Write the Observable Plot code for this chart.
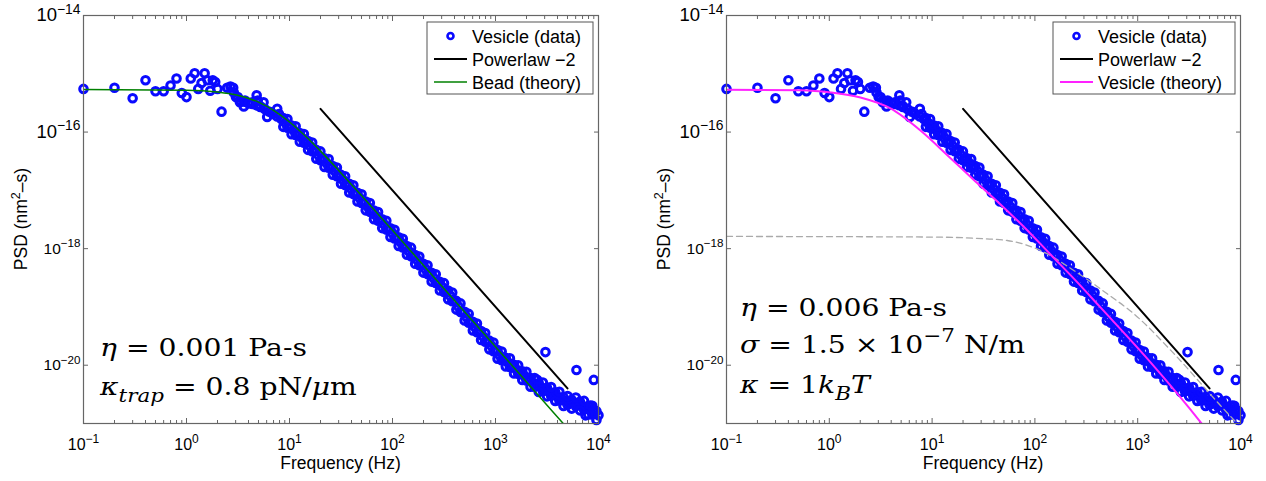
<!DOCTYPE html>
<html><head><meta charset="utf-8">
<script src="https://cdn.jsdelivr.net/npm/d3@7"></script>
<script src="https://cdn.jsdelivr.net/npm/@observablehq/plot@0.6"></script>
<style>
body{margin:0;background:#fff;}
#row{display:flex;width:1266px;height:481px;}
#row svg{display:block;}
</style></head><body><div id="row"></div>
<script>
// ---- data (Hz, nm^2-s) ----
const bandMidFreq = [8.71,9.55,10.47,11.48,12.59,13.80,15.14,16.60,18.20,19.95,21.88,23.99,26.30,28.84,31.62,34.67,38.02,41.69,45.71,50.12,54.95,60.26,66.07,72.44,79.43,87.10,95.50,104.7,114.8,125.9,138.0,151.4,166.0,182.0,199.5,218.8,239.9,263.0,288.4,316.2,346.7,380.2,416.9,457.1,501.2,549.5,602.6,660.7,724.4,794.3,871.0,955.0,1047,1148,1259,1380,1514,1660,1820,1995,2188,2399,2630,2884,3162,3467,3802,4169,4571,5012,5495,6026,6607,7244,7943,8710,9550];
const vesicleFreq = [0.1,0.2,0.3,0.4,0.5,0.6,0.7,0.8,0.9,1.0,1.1,1.2,1.3,1.4,1.5,1.6,1.7,1.8,1.9,2.0,2.19,2.48,2.67,2.84,2.88,3.02,3.15,3.3,3.31,3.6,3.63,3.7,3.98,4.03,4.35,4.37,4.79,4.8,4.92,5.2,5.25,5.6,5.75,6.07,6.31,6.6,6.92,7.59,7.6,7.9,
8.32,9.12,10.0,10.96,12.02,13.18,14.45,15.85,17.38,19.05,20.89,22.91,25.12,27.54,30.2,33.11,36.31,39.81,43.65,47.86,52.48,57.54,63.1,69.18,75.86,83.18,91.2,100,109.6,120.2,131.8,144.5,158.5,173.8,190.5,208.9,229.1,251.2,275.4,302,331.1,363.1,398.1,436.5,478.6,524.8,575.4,631,691.8,758.6,831.8,912,1000,1096,1202,1318,1445,1585,1738,1905,2089,2291,2512,2754,3020,3311,3631,3981,4365,4786,5248,5754,6310,6918,7586,8318,9120,10000,
...bandMidFreq, ...bandMidFreq,
2535,3054,6110,7480,8360,9000];
const vesiclePsd = [5.50e-16,5.75e-16,3.80e-16,7.76e-16,5.01e-16,5.01e-16,6.31e-16,8.32e-16,4.68e-16,3.98e-16,8.32e-16,1.02e-15,5.50e-16,6.92e-16,1.02e-15,7.76e-16,5.13e-16,7.76e-16,7.24e-16,5.50e-16,2.24e-16,5.75e-16,6.03e-16,5.75e-16,4.79e-16,3.98e-16,3.98e-16,3.24e-16,3.50e-16,2.75e-16,3.33e-16,3.47e-16,3.18e-16,3.09e-16,3.24e-16,3.03e-16,2.88e-16,4.27e-16,3.47e-16,2.69e-16,2.74e-16,3.24e-16,2.48e-16,1.82e-16,2.25e-16,2.19e-16,2.04e-16,1.85e-16,2.51e-16,2.04e-16,
1.67e-16,1.44e-16,1.24e-16,1.07e-16,9.29e-17,7.98e-17,6.78e-17,5.75e-17,4.82e-17,4.03e-17,3.42e-17,2.95e-17,2.55e-17,2.14e-17,1.79e-17,1.50e-17,1.26e-17,1.06e-17,8.87e-18,7.45e-18,6.25e-18,5.24e-18,4.40e-18,3.69e-18,3.09e-18,2.59e-18,2.18e-18,1.83e-18,1.53e-18,1.29e-18,1.08e-18,9.04e-19,7.59e-19,6.37e-19,5.33e-19,4.48e-19,3.76e-19,3.15e-19,2.64e-19,2.21e-19,1.86e-19,1.56e-19,1.26e-19,1.02e-19,8.22e-20,6.64e-20,5.47e-20,4.54e-20,3.77e-20,3.12e-20,2.59e-20,2.15e-20,1.78e-20,1.48e-20,1.28e-20,1.12e-20,9.77e-21,8.53e-21,7.48e-21,6.55e-21,5.74e-21,5.02e-21,4.56e-21,4.19e-21,3.84e-21,3.52e-21,3.21e-21,2.92e-21,2.65e-21,2.41e-21,2.28e-21,2.24e-21,2.20e-21,2.02e-21,1.87e-21,1.69e-21,1.53e-21,1.38e-21,
1.74e-16,1.19e-16,1.30e-16,8.89e-17,9.66e-17,6.55e-17,7.00e-17,4.69e-17,4.94e-17,3.30e-17,3.56e-17,2.44e-17,2.62e-17,1.75e-17,1.84e-17,1.23e-17,1.30e-17,8.63e-18,9.12e-18,6.08e-18,6.41e-18,4.28e-18,4.52e-18,3.01e-18,3.18e-18,2.12e-18,2.24e-18,1.49e-18,1.57e-18,1.05e-18,1.11e-18,7.38e-19,7.80e-19,5.19e-19,5.48e-19,3.66e-19,3.85e-19,2.57e-19,2.71e-19,1.81e-19,1.91e-19,1.25e-19,1.27e-19,8.15e-20,8.28e-20,5.37e-20,5.58e-20,3.68e-20,3.85e-20,2.53e-20,2.64e-20,1.74e-20,1.82e-20,1.22e-20,1.34e-20,9.31e-21,1.02e-20,7.11e-21,7.85e-21,5.46e-21,6.03e-21,4.27e-21,4.90e-21,3.57e-21,4.12e-21,3.00e-21,3.44e-21,2.48e-21,2.83e-21,2.09e-21,2.54e-21,1.98e-21,2.37e-21,1.73e-21,2.00e-21,1.43e-21,1.63e-21,
1.23e-16,1.68e-16,9.20e-17,1.26e-16,6.84e-17,9.26e-17,4.95e-17,6.63e-17,3.50e-17,4.66e-17,2.52e-17,3.45e-17,1.85e-17,2.47e-17,1.30e-17,1.74e-17,9.20e-18,1.22e-17,6.45e-18,8.59e-18,4.54e-18,6.05e-18,3.20e-18,4.25e-18,2.25e-18,3.00e-18,1.59e-18,2.11e-18,1.11e-18,1.48e-18,7.86e-19,1.04e-18,5.52e-19,7.33e-19,3.88e-19,5.17e-19,2.72e-19,3.63e-19,1.92e-19,2.56e-19,1.35e-19,1.77e-19,8.99e-20,1.15e-19,5.86e-20,7.59e-20,3.95e-20,5.20e-20,2.72e-20,3.57e-20,1.87e-20,2.46e-20,1.29e-20,1.72e-20,9.48e-21,1.32e-20,7.22e-21,1.00e-20,5.56e-21,7.71e-21,4.27e-21,6.03e-21,3.47e-21,5.04e-21,2.92e-21,4.24e-21,2.43e-21,3.50e-21,2.00e-21,2.95e-21,1.80e-21,2.80e-21,1.68e-21,2.44e-21,1.42e-21,2.02e-21,1.15e-21,
5.64e-21,1.68e-20,8.3e-21,1.38e-21,2.04e-21,5.6e-21];

const powerlawFreq = [20, 5000];
const powerlawPsd = [2.5e-16, 4.0e-21];

const beadFreq = [0.1,1,2,3,5,7,10,15,20,30,50,100,300,1000,3000,4500,5000];
const beadPsd = [5.37e-16,5.24e-16,4.86e-16,4.36e-16,3.26e-16,2.36e-16,1.49e-16,7.83e-17,4.71e-17,2.20e-17,8.13e-18,2.06e-18,2.29e-19,2.07e-20,2.30e-21,1.02e-21,8.26e-22];

const vesTheoryFreq = [0.1,0.525,1.03,2.01,3.94,7.71,14.5,26.4,46.3,81.0,141.9,248.5,434.5,1334,4083,5105];
const vesTheoryPsd = [5.32e-16,5.21e-16,4.78e-16,3.92e-16,2.54e-16,1.06e-16,3.81e-17,1.42e-17,5.73e-18,2.22e-18,7.94e-19,2.85e-19,9.80e-20,1.12e-20,1.06e-21,6.4e-22];

const dashedFreq = [0.1,10,31.6,53.8,113,239,505,916,2250,6380,10000];
const dashedPsd = [1.62e-18,1.58e-18,1.48e-18,1.38e-18,9.33e-19,4.23e-19,1.68e-19,7.64e-20,1.58e-20,2.04e-21,8.7e-22];

// ---- axis ticks ----
const xMajor = [0.1,1,10,100,1000,10000];
const xMinor = [0.2,0.3,0.4,0.5,0.6,0.7,0.8,0.9,2,3,4,5,6,7,8,9,20,30,40,50,60,70,80,90,200,300,400,500,600,700,800,900,2000,3000,4000,5000,6000,7000,8000,9000];
const yMajor = [1e-20,1e-18,1e-16,1e-14];

const legendLabels = ["Vesicle (data)", "Powerlaw \u22122"];

const pts = (fs, ps) => fs.map((f, i) => ({f, p: ps[i]}));
const vesicle = pts(vesicleFreq, vesiclePsd);
const powerlaw = pts(powerlawFreq, powerlawPsd);
const bead = pts(beadFreq, beadPsd);
const vesTheory = pts(vesTheoryFreq, vesTheoryPsd);
const dashed = pts(dashedFreq, dashedPsd);

const axisColor = "#666";
const blue = "#0a0aff";
const supFmt = d => "10^" + String(Math.round(Math.log10(d))).replace("-", "\u2212");

function makePanel({marginLeft, marginRight, lines, legendBox, theoryLabel, theoryColor, math}) {
  const W = 633, H = 481;
  const chart = Plot.plot({
    width: W, height: H,
    marginLeft, marginRight, marginTop: 15, marginBottom: 58,
    style: {fontFamily: "'Liberation Sans', Arial, Helvetica, sans-serif", background: "white", overflow: "visible"},
    x: {type: "log", domain: [0.1, 1e4]},
    y: {type: "log", domain: [1e-21, 1e-14]},
    marks: [
      Plot.axisX(xMinor, {anchor: "bottom", tickSize: -3, stroke: axisColor, fill: "none", label: null}),
      Plot.axisX(xMinor, {anchor: "top", tickSize: -3, stroke: axisColor, fill: "none", label: null}),
      Plot.axisX(xMajor, {anchor: "top", tickSize: -5, stroke: axisColor, fill: "none", label: null}),
      Plot.axisX(xMajor, {anchor: "bottom", tickSize: -5, tickPadding: 20, stroke: axisColor, fill: "black", fontSize: 16, tickFormat: supFmt, label: null}),
      Plot.axisY(yMajor, {anchor: "right", tickSize: -5, stroke: axisColor, fill: "none", label: null}),
      Plot.axisY(yMajor, {anchor: "left", tickSize: -5, tickPadding: 8, stroke: axisColor, fill: "black", fontSize: 16, tickFormat: supFmt, label: null}),
      Plot.dot(vesicle, {x: "f", y: "p", r: 3.8, stroke: blue, strokeWidth: 3, fill: "none"}),
      ...lines,
      Plot.frame({stroke: axisColor, strokeWidth: 1.2})
    ]
  });
  const svg = d3.select(chart);
  const ns = "http://www.w3.org/2000/svg";
  // superscript tick labels
  chart.querySelectorAll("text").forEach(t => {
    const m = t.textContent.match(/^10\^(.+)$/);
    if (!m) return;
    t.textContent = "";
    const a = document.createElementNS(ns, "tspan"); a.textContent = "10";
    const b = document.createElementNS(ns, "tspan"); b.textContent = m[1];
    b.setAttribute("dy", "-0.55em"); b.setAttribute("font-size", "0.75em");
    t.append(a, b);
    if (m[1] === "\u221214" || m[1] === "\u221216") t.setAttribute("font-size", 18.5);
    else if (m[1] === "\u221218" || m[1] === "\u221220") t.setAttribute("font-size", 15.5);
  });
  const x0 = marginLeft, x1 = W - marginRight;
  const ann = svg.append("g").attr("text-anchor", "start").attr("fill", "black");
  // axis labels
  ann.append("text").attr("x", (x0 + x1) / 2).attr("y", 469).attr("text-anchor", "middle")
    .attr("font-size", 17.5).text("Frequency (Hz)");
  const yl = ann.append("text").attr("transform", `translate(${x0 - 56},219) rotate(-90)`)
    .attr("text-anchor", "middle").attr("font-size", 17.5);
  yl.append("tspan").text("PSD (nm");
  yl.append("tspan").text("2").attr("dy", -7).attr("font-size", 12.5);
  yl.append("tspan").text("\u2013s)").attr("dy", 7);
  // legend
  const [bx, bw] = legendBox;
  const lg = ann.append("g").attr("font-size", 18);
  lg.append("rect").attr("x", bx).attr("y", 22).attr("width", bw).attr("height", 72)
    .attr("fill", "white").attr("stroke", "#555").attr("stroke-width", 1);
  const lx0 = bx + 7, lx1 = bx + 40, tx = bx + 45;
  lg.append("circle").attr("cx", (lx0 + lx1) / 2).attr("cy", 36).attr("r", 3)
    .attr("fill", "none").attr("stroke", blue).attr("stroke-width", 2.6);
  lg.append("line").attr("x1", lx0).attr("x2", lx1).attr("y1", 59).attr("y2", 59).attr("stroke", "black").attr("stroke-width", 2);
  lg.append("line").attr("x1", lx0).attr("x2", lx1).attr("y1", 82).attr("y2", 82).attr("stroke", theoryColor).attr("stroke-width", theoryColor === "#008000" ? 1.5 : 2);
  [legendLabels[0], legendLabels[1], theoryLabel].forEach((s, i) => {
    lg.append("text").attr("x", tx).attr("y", 36 + 23 * i + 6.5).text(s);
  });
  // math annotations (TeX-like)
  for (const {x, y, parts} of math) {
    const size = 25;
    const t = ann.append("text").attr("transform", `translate(${x},${y}) scale(1.13,1)`)
      .attr("font-family", "'DejaVu Serif', serif")
      .attr("font-size", size).style("white-space", "pre");
    let shift = 0;
    for (const [s, kind] of parts) {
      const sp = t.append("tspan").text(s);
      const target = (kind === "sub" || kind === "subi") ? 7 : kind === "sup" ? -11 : 0;
      if (target !== shift) { sp.attr("dy", target - shift); shift = target; }
      if (kind === "i" || kind === "subi") sp.attr("font-style", "italic");
      if (kind === "sub" || kind === "subi" || kind === "sup") sp.attr("font-size", 19);
    }
  }
  return chart;
}

const row = document.getElementById("row");
row.append(makePanel({
  marginLeft: 83, marginRight: 35,
  legendBox: [427, 166], theoryLabel: "Bead (theory)", theoryColor: "#008000",
  lines: [
    Plot.line(powerlaw, {x: "f", y: "p", stroke: "black", strokeWidth: 2}),
    Plot.line(bead, {x: "f", y: "p", stroke: "#008000", strokeWidth: 1.5, curve: "monotone-x", clip: true})
  ],
  math: [
    {x: 100, y: 356, parts: [["\u03b7", "i"], [" = 0.001 Pa-s", ""]]},
    {x: 100, y: 395, parts: [["\u03ba", "i"], ["trap", "subi"], [" = 0.8 pN/", ""], ["\u03bc", "i"], ["m", ""]]}
  ]
}));
row.append(makePanel({
  marginLeft: 93, marginRight: 26,
  legendBox: [420, 182], theoryLabel: "Vesicle (theory)", theoryColor: "#ff22ff",
  lines: [
    Plot.line(dashed, {x: "f", y: "p", stroke: "#aaa", strokeWidth: 1.3, strokeDasharray: "6,4", curve: "monotone-x", clip: true}),
    Plot.line(powerlaw, {x: "f", y: "p", stroke: "black", strokeWidth: 2}),
    Plot.line(vesTheory, {x: "f", y: "p", stroke: "#ff22ff", strokeWidth: 2, curve: "monotone-x", clip: true})
  ],
  math: [
    {x: 107, y: 316, parts: [["\u03b7", "i"], [" = 0.006 Pa-s", ""]]},
    {x: 107, y: 353, parts: [["\u03c3", "i"], [" = 1.5 \u00d7 10", ""], ["\u22127", "sup"], [" N/m", ""]]},
    {x: 107, y: 393, parts: [["\u03ba", "i"], [" = 1", ""], ["k", "i"], ["B", "subi"], ["T", "i"]]}
  ]
}));
</script></body></html>
